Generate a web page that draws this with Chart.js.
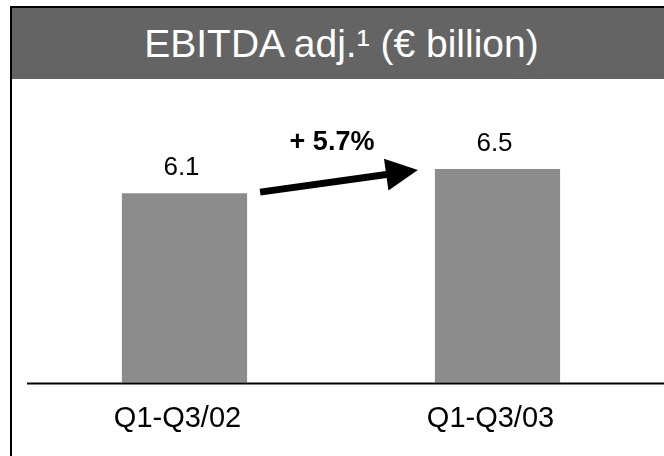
<!DOCTYPE html>
<html>
<head>
<meta charset="utf-8">
<script src="https://cdn.jsdelivr.net/npm/chart.js@4.4.0/dist/chart.umd.min.js"></script>
<style>
  html, body { margin: 0; padding: 0; background: #fff; }
  body { width: 664px; height: 456px; position: relative; overflow: hidden; font-family: "Liberation Sans", Arial, sans-serif; }
  .frame { position: absolute; left: 10px; top: 6px; width: 700px; height: 500px; border-left: 2px solid #000; border-top: 2px solid #000; }
  .title { position: absolute; left: 12px; top: 8px; width: 652px; height: 71px; background: #646464; color: #fff;
           display: flex; align-items: center; justify-content: center; padding-left: 7px; box-sizing: border-box;
           font-size: 39px; }
  #chart { position: absolute; left: 0; top: 0; }
</style>
</head>
<body>
<div class="frame"></div>
<div class="title">EBITDA adj.¹ (€ billion)</div>
<canvas id="chart" width="664" height="456"></canvas>
<script>
const categories = ['Q1-Q3/02', 'Q1-Q3/03'];
const ebitdaValues = [6.1, 6.5];
const valueLabels = ['6.1', '6.5'];
const growthLabel = '+ 5.7%';

const FONT = '"Liberation Sans", Arial, sans-serif';

// value labels, growth arrow and the long baseline
const annotations = {
  id: 'annotations',
  afterDatasetsDraw(chart) {
    const ctx = chart.ctx;
    const bars = chart.getDatasetMeta(0).data;
    const area = chart.chartArea;

    ctx.save();
    ctx.strokeStyle = '#000';
    ctx.lineWidth = 2;
    ctx.beginPath();
    ctx.moveTo(area.left - 1, area.bottom + 1);
    ctx.lineTo(chart.width, area.bottom + 1);
    ctx.stroke();

    ctx.fillStyle = '#000';
    ctx.font = '26px ' + FONT;
    ctx.textAlign = 'center';
    ctx.textBaseline = 'alphabetic';
    bars.forEach((bar, i) => {
      ctx.fillText(valueLabels[i], bar.x - 3, bar.y - 18);
    });

    const a = bars[0], b = bars[1];
    const x0 = a.x + a.width / 2 + 13, y0 = a.y - 1;
    const x1 = b.x - b.width / 2 - 17, y1 = b.y + 1;
    const ang = Math.atan2(y1 - y0, x1 - x0);
    const headLen = 32, headHalf = 16;
    const bx = x1 - headLen * Math.cos(ang), by = y1 - headLen * Math.sin(ang);
    ctx.lineWidth = 7;
    ctx.lineCap = 'butt';
    ctx.beginPath();
    ctx.moveTo(x0, y0);
    ctx.lineTo(bx + 2 * Math.cos(ang), by + 2 * Math.sin(ang));
    ctx.stroke();
    ctx.beginPath();
    ctx.moveTo(x1, y1);
    ctx.lineTo(bx - headHalf * Math.sin(ang), by + headHalf * Math.cos(ang));
    ctx.lineTo(bx + headHalf * Math.sin(ang), by - headHalf * Math.cos(ang));
    ctx.closePath();
    ctx.fill();

    ctx.font = 'bold 27px ' + FONT;
    ctx.fillText(growthLabel, (a.x + b.x) / 2 - 9, b.y - 19);
    ctx.restore();
  }
};

new Chart(document.getElementById('chart'), {
  type: 'bar',
  data: {
    labels: categories,
    datasets: [{
      data: ebitdaValues,
      backgroundColor: '#8c8c8c',
      borderWidth: 0,
      barPercentage: 1,
      categoryPercentage: 0.4
    }]
  },
  options: {
    responsive: false,
    animation: false,
    layout: { padding: { left: 28, right: 10, top: 103, bottom: 0 } },
    plugins: {
      legend: { display: false },
      tooltip: { enabled: false }
    },
    scales: {
      x: {
        grid: { display: false, drawTicks: false },
        border: { display: false },
        ticks: {
          color: '#000',
          font: { family: FONT, size: 29, lineHeight: 0.95 },
          padding: 23,
          labelOffset: -7,
          maxRotation: 0
        }
      },
      y: {
        display: false,
        min: 2.95,
        max: 7.6
      }
    }
  },
  plugins: [annotations]
});
</script>
</body>
</html>
